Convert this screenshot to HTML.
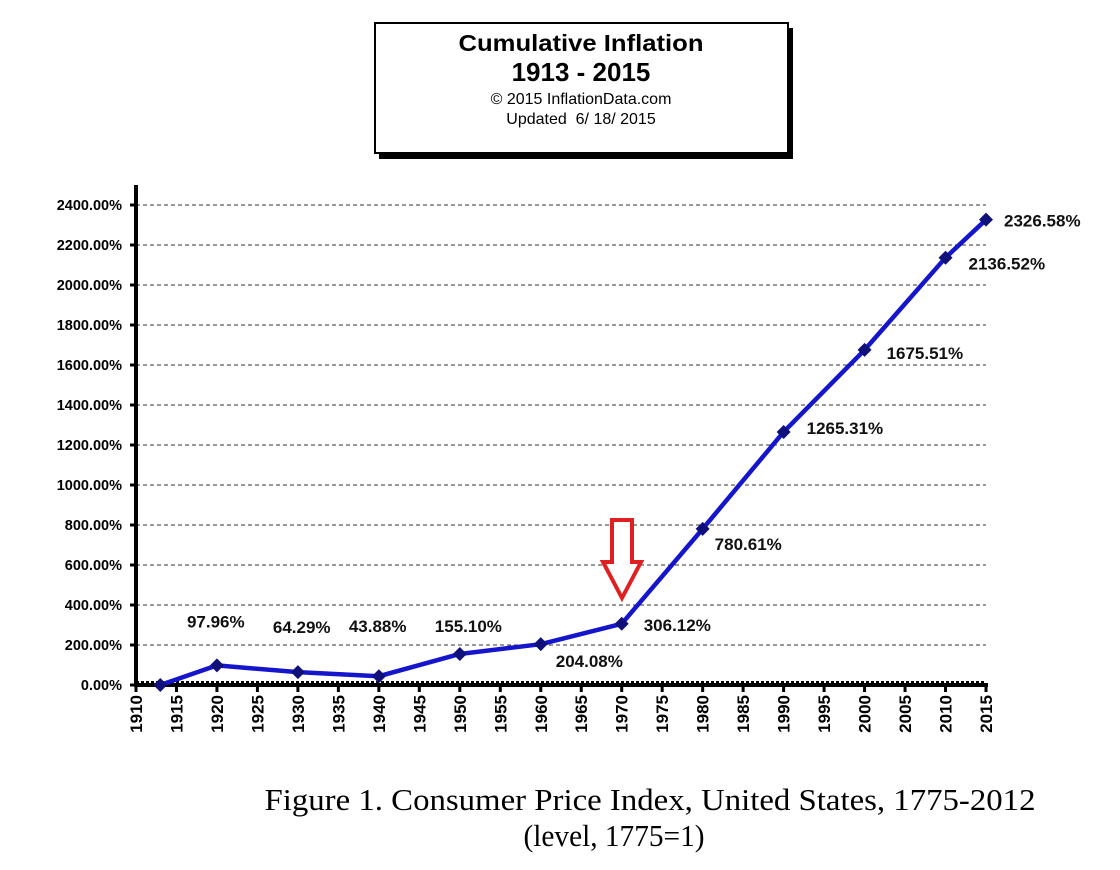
<!DOCTYPE html>
<html><head><meta charset="utf-8"><style>
body{margin:0;background:#fff;}
svg{display:block;}
</style></head><body>
<svg id="chart" width="1120" height="870" xmlns="http://www.w3.org/2000/svg">
<g>
<rect x="379" y="28" width="414" height="131" fill="#000"/>
<rect x="375" y="23" width="413" height="130" fill="#fff" stroke="#000" stroke-width="2"/>
<text x="581" y="51" text-anchor="middle" font-family="Liberation Sans, sans-serif" font-weight="bold" font-size="23" textLength="245" lengthAdjust="spacingAndGlyphs">Cumulative Inflation</text>
<text x="581" y="81" text-anchor="middle" font-family="Liberation Sans, sans-serif" font-weight="bold" font-size="26">1913 - 2015</text>
<text x="581" y="104" text-anchor="middle" font-family="Liberation Sans, sans-serif" font-size="16">© 2015 InflationData.com</text>
<text x="581" y="124" text-anchor="middle" font-family="Liberation Sans, sans-serif" font-size="16" xml:space="preserve">Updated  6/ 18/ 2015</text>
</g>
<g id="grid"></g><g id="axes"></g><g id="series"></g><g id="labels"></g>
<g>
<path d="M612,520 L632,520 L632,562 L641,562 L622,598 L603,562 L612,562 Z" fill="#fff" stroke="#e02020" stroke-width="4" stroke-linejoin="miter"/>
</g>
<text x="650" y="810" text-anchor="middle" font-family="Liberation Serif, serif" font-size="31" textLength="771" lengthAdjust="spacingAndGlyphs">Figure 1. Consumer Price Index, United States, 1775-2012</text>
<text x="614" y="846" text-anchor="middle" font-family="Liberation Serif, serif" font-size="31" textLength="181" lengthAdjust="spacingAndGlyphs">(level, 1775=1)</text>
</svg>
<script>
const years = [1913,1920,1930,1940,1950,1960,1970,1980,1990,2000,2010,2015];
const values = [0,97.96,64.29,43.88,155.10,204.08,306.12,780.61,1265.31,1675.51,2136.52,2326.58];
const valueLabels = ["","97.96%","64.29%","43.88%","155.10%","204.08%","306.12%","780.61%","1265.31%","1675.51%","2136.52%","2326.58%"];
const yTicks = [0,200,400,600,800,1000,1200,1400,1600,1800,2000,2200,2400];
const xTicks = [1910,1915,1920,1925,1930,1935,1940,1945,1950,1955,1960,1965,1970,1975,1980,1985,1990,1995,2000,2005,2010,2015];
// label offsets [dx, dy] relative to point
const labelOffsets = [[0,0],[-30,-38],[-25,-39],[-30,-44],[-25,-22],[15,23],[22,7],[12,21],[23,2],[22,9],[23,12],[18,7]];

const NS="http://www.w3.org/2000/svg";
const X0=136, XPY=(986-136)/105, Y0=685, YPV=0.2;
const xs=y=>X0+(y-1910)*XPY;
const ys=v=>Y0-v*YPV;
function mk(tag,attrs,parent){const e=document.createElementNS(NS,tag);for(const k in attrs)e.setAttribute(k,attrs[k]);parent.appendChild(e);return e;}
const grid=document.getElementById('grid'),axes=document.getElementById('axes'),series=document.getElementById('series'),labels=document.getElementById('labels');
const F="Liberation Sans, sans-serif";
yTicks.forEach(v=>{
  if(v>0){const g=mk('line',{x1:X0,x2:xs(2015),y1:ys(v),y2:ys(v),stroke:'#333','stroke-width':1,'stroke-dasharray':'4,3'},grid);
  
  }
  const t=mk('text',{x:122,y:ys(v)+5,'text-anchor':'end','font-family':F,'font-weight':'bold','font-size':14.5},axes);
  t.textContent=v.toFixed(2)+'%';
  
  
  mk('line',{x1:X0-6,x2:X0,y1:ys(v),y2:ys(v),stroke:'#000','stroke-width':3},axes);
});
const ya=mk('line',{x1:X0,x2:X0,y1:185,y2:Y0+2,stroke:'#000','stroke-width':4},axes);


const xa=mk('line',{x1:X0,x2:xs(2015)+2,y1:Y0,y2:Y0,stroke:'#000','stroke-width':4},axes);


mk('line',{x1:X0,x2:xs(2015),y1:Y0-3,y2:Y0-3,stroke:'#000','stroke-width':2,'stroke-dasharray':'3,2'},axes);
xTicks.forEach(y=>{
  mk('line',{x1:xs(y),x2:xs(y),y1:Y0,y2:Y0+7,stroke:'#000','stroke-width':3},axes);
  const t=mk('text',{x:0,y:0,'text-anchor':'end','font-family':F,'font-weight':'bold','font-size':17,transform:`translate(${xs(y)+6},695) rotate(-90)`},axes);
  t.textContent=y;
  
  
});
const pts=years.map((y,i)=>xs(y)+','+ys(values[i])).join(' ');
const pl=mk('polyline',{points:pts,fill:'none',stroke:'#1515cc','stroke-width':4.5,'stroke-linejoin':'round'},series);


years.forEach((y,i)=>{
  const cx=xs(y),cy=ys(values[i]);
  const m=mk('path',{d:`M${cx},${cy-7} L${cx+7},${cy} L${cx},${cy+7} L${cx-7},${cy} Z`,fill:'#10107a'},series);
  
  
  if(valueLabels[i]){
    const t=mk('text',{x:cx+labelOffsets[i][0],y:cy+labelOffsets[i][1],'font-family':F,'font-weight':'bold','font-size':17,fill:'#111'},labels);
    t.textContent=valueLabels[i];
    
    
  }
});
</script>
</body></html>
